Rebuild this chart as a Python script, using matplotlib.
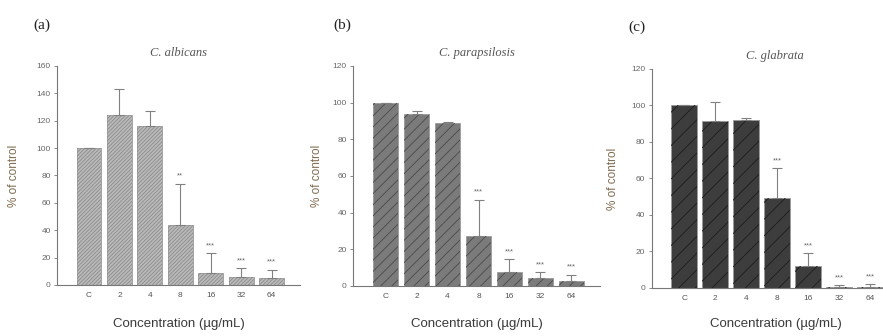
import matplotlib
matplotlib.use("Agg")
import matplotlib.pyplot as plt

# -----------------------------
# DATA
# -----------------------------
conc_labels = ["C", "2", "4", "8", "16", "32", "64"]

albicans_mean = [100, 124, 116, 44, 9, 6, 5]
albicans_err = [0, 19, 11, 30, 14, 6, 6]
albicans_sig = ["", "", "", "**", "***", "***", "***"]

parap_mean = [100, 93.5, 89, 27.5, 7.5, 4.5, 2.5]
parap_err = [0, 2, 0.5, 19.5, 7, 3, 3.5]
parap_sig = ["", "", "", "***", "***", "***", "***"]

glab_mean = [100, 91.5, 92, 49, 12, 0.5, 0.5]
glab_err = [0, 10.5, 1, 16.5, 7, 1, 1.5]
glab_sig = ["", "", "", "***", "***", "***", "***"]

species = ["C. albicans", "C. parapsilosis", "C. glabrata"]
letters = ["(a)", "(b)", "(c)"]

# -----------------------------
# STYLE
# -----------------------------
plt.rcParams["font.family"] = ["Liberation Sans", "DejaVu Sans"]
plt.rcParams["hatch.linewidth"] = 0.6

panels = [
    dict(mean=albicans_mean, err=albicans_err, sig=albicans_sig, ymax=160, step=20,
         rect=[0.0646, 0.152, 0.275, 0.652], fill="#bababa", hatch_col="#8c8c8c", hatch="/" * 9,
         ylab_x=14, letter_xy=(33, 25)),
    dict(mean=parap_mean, err=parap_err, sig=parap_sig, ymax=120, step=20,
         rect=[0.3998, 0.149, 0.280, 0.655], fill="#7b7b7b", hatch_col="#4a4a4a", hatch="///",
         ylab_x=317, letter_xy=(333, 25)),
    dict(mean=glab_mean, err=glab_err, sig=glab_sig, ymax=120, step=20,
         rect=[0.738, 0.143, 0.280, 0.652], fill="#3d3d3d", hatch_col="#1c1c1c", hatch="//",
         ylab_x=613, letter_xy=(628, 27)),
]

W, H = 883, 336
fig = plt.figure(figsize=(W / 100, H / 100), dpi=100)

x = list(range(len(conc_labels)))

for i, p in enumerate(panels):
    ax = fig.add_axes(p["rect"])
    ax.bar(x, p["mean"], width=0.82, color=p["fill"], edgecolor="#9a9a9a", linewidth=0.6, zorder=2)
    ax.bar(x, p["mean"], width=0.82, color="none", edgecolor=p["hatch_col"], hatch=p["hatch"],
           linewidth=0, zorder=3)
    # upper error bars only
    low = [0] * len(x)
    ax.errorbar(x, p["mean"], yerr=[low, p["err"]], fmt="none", ecolor="#808080",
                elinewidth=0.8, capsize=3.5, capthick=0.8, zorder=4)
    for xi, m, e, s in zip(x, p["mean"], p["err"], p["sig"]):
        if s:
            ax.annotate(s, (xi, m + e), xytext=(0, 3), textcoords="offset points",
                        ha="center", va="bottom", fontsize=5.5, color="#666666")

    ax.set_xlim(-1.05, 6.93)
    ax.set_ylim(0, p["ymax"])
    ax.set_yticks(range(0, p["ymax"] + 1, p["step"]))
    ax.set_xticks(x)
    ax.set_xticklabels(conc_labels)
    ax.tick_params(axis="y", length=2.5, width=0.6, color="#777777", labelsize=6,
                   labelcolor="#666666", pad=2)
    ax.tick_params(axis="x", length=0, labelsize=6, labelcolor="#555555", pad=5)
    for side in ["top", "right"]:
        ax.spines[side].set_visible(False)
    for side in ["left", "bottom"]:
        ax.spines[side].set_color("#777777")
        ax.spines[side].set_linewidth(0.8)
    ax.set_facecolor("none")

    l, b, w, h = p["rect"]
    cx = (l + w / 2) if i < 2 else (652 + 247 / 2) / W
    ax.set_title(species[i], fontsize=9, style="italic", family=["Liberation Serif", "DejaVu Serif"],
                 color="#555555", pad=7)
    fig.text(cx, 1 - 324 / H, "Concentration (\u00b5g/mL)", ha="center", va="center",
             fontsize=9.5, color="#3a3a3a")
    fig.text(p["ylab_x"] / W, b + h / 2, "% of control", rotation=90, ha="center",
             va="center", fontsize=8.5, color="#806c50")
    fig.text(p["letter_xy"][0] / W, 1 - p["letter_xy"][1] / H, letters[i], ha="left", va="center",
             fontsize=11, family=["Liberation Serif", "DejaVu Serif"], color="#222222")

fig.savefig("out.png", dpi=100)
